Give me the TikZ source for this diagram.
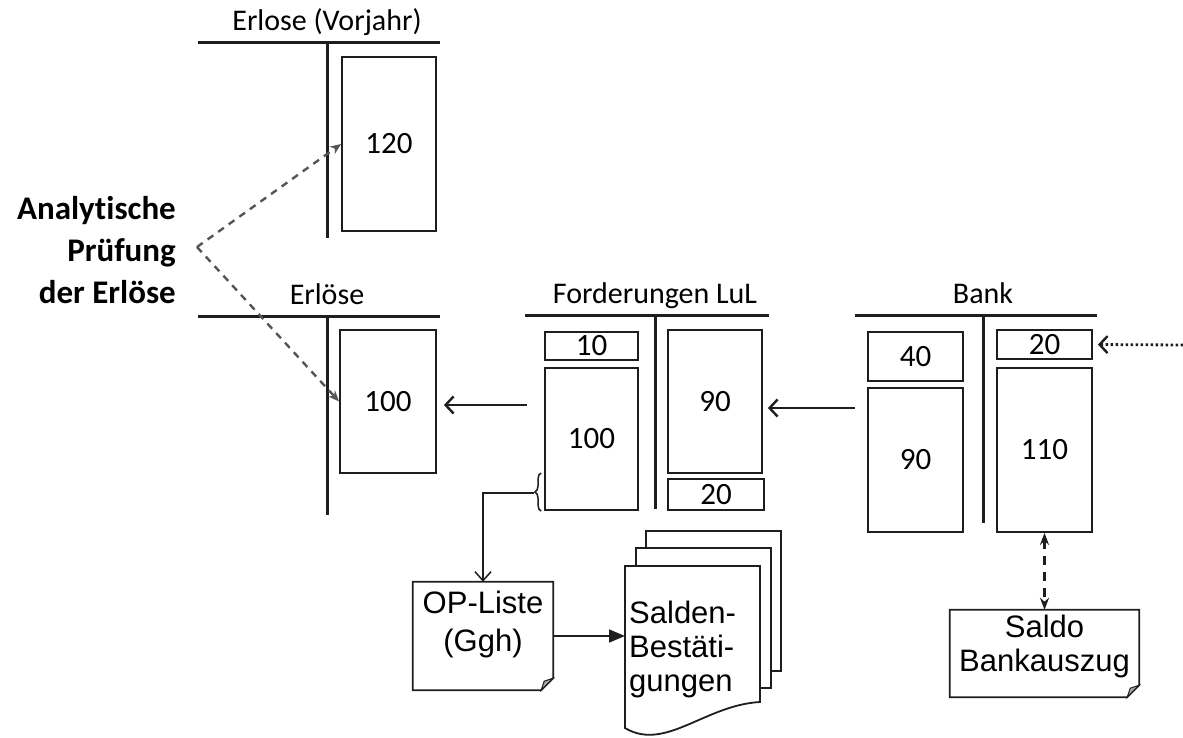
\documentclass[tikz,border=0pt]{standalone}
\usepackage{fontspec}
\setmainfont{Carlito}[Ligatures=NoCommon]
\newfontfamily\docfont{Liberation Sans}
\usetikzlibrary{positioning,arrows.meta,decorations.pathreplacing,calc}
\definecolor{linegray}{RGB}{30,30,30}
\definecolor{dashgray}{RGB}{85,85,85}
\definecolor{foldgray}{RGB}{165,165,165}

\begin{document}
\begin{tikzpicture}[x=1pt,y=-1pt,
    tline/.style={line width=3pt,linegray},
    acct/.style={draw=linegray,line width=1.8pt,inner sep=0pt,font=\fontsize{31}{33}\selectfont},
    ttitle/.style={anchor=base,inner sep=0pt,font=\fontsize{30}{33}\selectfont},
    flow/.style={line width=2.8pt,linegray,-{Straight Barb[length=8pt,width=17pt,line width=2.4pt]}},
    analytic/.style={line width=2.4pt,dashgray,dash pattern=on 7pt off 6pt,-{Stealth[length=11pt,width=9pt]}},
    docline/.style={draw=linegray,line width=1.8pt},
    doctext/.style={inner sep=0pt,font=\docfont\fontsize{31}{36}\selectfont},
    fold/.style={fill=foldgray,draw=linegray,line width=1pt}]
    \useasboundingbox (0,0) rectangle (1183,738);

    \foreach \n/\xl/\xm/\xr/\yt/\yb/\txt in {
        vj/198/327/440/43/238/{Erlose (Vorjahr)},
        er/198/327/440/316/515/{Erlöse},
        fo/525/655/769/315/509/{Forderungen LuL},
        ba/855/983/1097/315/523/{Bank}}{
        \draw[tline] (\xl,\yt) -- (\xr,\yt);
        \draw[tline] (\xm,\yt) -- (\xm,\yb);
        \node[ttitle] (\n) at (\xm,\yt-12) {\txt};
    }

    \foreach \n/\x/\y/\w/\h/\v in {
        vj120/389/144/94/174/120, e100/388/401.5/96/143/100,
        f10/591.5/346/93/28/10, f100/591.5/439/93/142/100,
        f90/715/401.5/94/143/90, f20/716/494.5/96/31/20,
        b40/915.5/356.5/95/49/40, b90/915.5/460/95/144/90,
        b20/1044.5/344.5/95/29/20, b110/1044.5/450/95/164/110}{
        \node[acct,minimum width=\w pt,minimum height=\h pt] (\n) at (\x,\y) {\v};
    }

    \node[anchor=east,align=right,inner sep=0pt,font=\bfseries\fontsize{33}{42}\selectfont]
        (ana) at (176,250) {Analytische\\Prüfung\\der Erlöse};
    \coordinate (ap) at (197,247);
    \draw[analytic] (ap) -- (vj120.west);
    \draw[analytic] (ap) -- (e100.west);

    \coordinate (fo-in) at (527,405);
    \coordinate (ba-in) at (855,408);
    \coordinate (rin) at (1183,345);
    \draw[flow,shorten >=7pt] (fo-in) -- (fo-in -| e100.east);
    \draw[flow,shorten >=5pt] (ba-in) -- (ba-in -| f90.east);
    \draw[flow,dash pattern=on 2.5pt off 2.5pt,shorten >=5pt] (rin) -- (b20.east);

    \draw[line width=1.5pt,linegray,decorate,decoration={brace,amplitude=6pt}] (541,511) -- (541,473);
    \coordinate (brc) at (534,493);

    \node[minimum width=140pt,minimum height=108pt,inner sep=0pt] (op) at (483,636) {};
    \draw[docline] (op.north west) -- (op.north east) -- ([yshift=12pt]op.south east)
        -- ([xshift=-12pt]op.south east) -- (op.south west) -- cycle;
    \draw[fold] ([yshift=12pt]op.south east) -- ([xshift=-12pt]op.south east)
        -- ([xshift=-9pt,yshift=9pt]op.south east) -- cycle;
    \node[doctext,align=center,font=\docfont\fontsize{31}{38}\selectfont] at ([yshift=12pt]op.center) {OP-Liste\\(Ggh)};

    \node[minimum width=189pt,minimum height=87pt,inner sep=0pt] (sb) at (1044.5,653.5) {};
    \draw[docline] (sb.north west) -- (sb.north east) -- ([yshift=12pt]sb.south east)
        -- ([xshift=-12pt]sb.south east) -- (sb.south west) -- cycle;
    \draw[fold] ([yshift=12pt]sb.south east) -- ([xshift=-12pt]sb.south east)
        -- ([xshift=-9pt,yshift=9pt]sb.south east) -- cycle;
    \node[doctext,align=center,font=\docfont\fontsize{31}{34}\selectfont] at ([yshift=7pt]sb.center) {Saldo\\Bankauszug};

    \foreach \dx/\dy in {21/-35, 11/-18}{
        \draw[docline,fill=white] (625+\dx,566+\dy) rectangle (760+\dx,706+\dy);
    }
    \draw[docline,fill=white] (625,566) -- (760,566) -- (760,702)
        .. controls (705,705) and (665,752) .. (625,728) -- cycle;
    \node[doctext,anchor=west,align=left,font=\docfont\fontsize{31}{34}\selectfont]
        (sal) at (629,649) {Salden-\\Bestäti-\\gungen};

    \draw[line width=1.5pt,linegray,-{Straight Barb[length=9pt,width=16pt,line width=1.5pt]}] (brc) -| (op.north);
    \draw[line width=1.6pt,linegray,shorten >=4pt,-{Triangle[length=16pt,width=13pt]}] (op.east) -- (op.east -| sal.west);
    \draw[line width=2.4pt,linegray,dash pattern=on 9pt off 7pt,
        {Stealth[length=12pt,width=9pt]}-{Stealth[length=12pt,width=9pt]}] (b110.south) -- (sb.north);
\end{tikzpicture}
\end{document}
